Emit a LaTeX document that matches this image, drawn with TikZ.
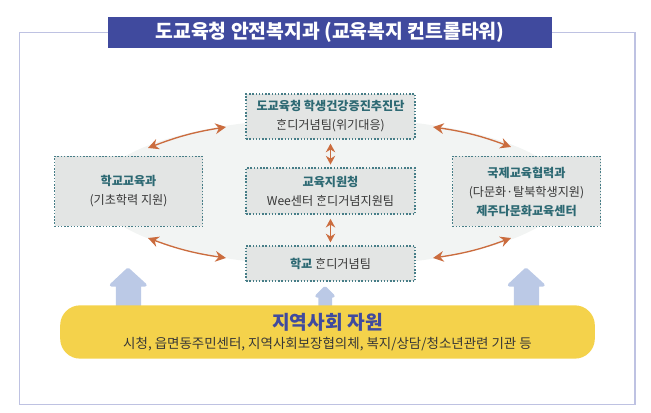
\documentclass[tikz,border=0pt]{standalone}
\usepackage{fontspec}
\usepackage{xcolor}
\setmainfont[Script=Hangul]{Noto Sans CJK KR}
\usetikzlibrary{arrows.meta, calc, positioning, shapes.geometric, backgrounds, fit}
\definecolor{titleblue}{RGB}{64,74,158}
\definecolor{framelilac}{RGB}{190,194,226}
\definecolor{boxgrey}{RGB}{227,229,228}
\definecolor{dottealc}{RGB}{70,125,135}
\definecolor{tealtext}{RGB}{45,105,115}
\definecolor{darktext}{RGB}{55,55,55}
\definecolor{arroworange}{RGB}{203,108,62}
\definecolor{cloudgrey}{RGB}{242,244,243}
\definecolor{paleblue}{RGB}{187,201,230}
\definecolor{bandyellow}{RGB}{244,210,75}
\tikzset{
    orgbox/.style={draw=dottealc, fill=boxgrey, line width=1.2pt, dash pattern=on 1.1pt off 1.3pt,
        minimum width=#1, align=center, text=darktext, font=\fontsize{9.1pt}{14.2pt}\selectfont, inner sep=0pt},
    orgarrow/.style={{Stealth[length=8pt,width=8pt]}-{Stealth[length=8pt,width=8pt]}, arroworange, line width=1pt},
    upblock/.style={fill=paleblue, draw=paleblue, line width=2.5pt, line join=round}
}
\newcommand{\tealbf}[1]{\textcolor{tealtext}{\bfseries #1}}
\begin{document}
\begin{tikzpicture}[x=0.75pt, y=-0.75pt]
    \useasboundingbox (0,0) rectangle (651,413);

    % Outer frame
    \draw[framelilac, line width=1pt] (19.5,32.5) rectangle (635,404.5);

    % Title
    \node[fill=titleblue, draw=titleblue, minimum width=332pt, minimum height=22.5pt, inner sep=0pt,
        text=white, font=\fontsize{14.5pt}{16pt}\selectfont\bfseries] (title) at (330,32.5) {도교육청 안전복지과 (교육복지 컨트롤타워)};

    % Grey cloud behind the boxes
    \fill[cloudgrey] (331,192) ellipse (235 and 74);

    % Offices
    \node[orgbox=126.5pt, minimum height=33.5pt] (topbox) at (330.5,116.5) {\tealbf{도교육청 학생건강증진추진단}\\ᄒᆞᆫ디거념팀(위기대응)};
    \node[orgbox=126.5pt, minimum height=34.5pt] (midbox) at (330.5,191) {\tealbf{교육지원청}\\Wee센터 ᄒᆞᆫ디거념지원팀};
    \node[orgbox=126.5pt, minimum height=26.5pt] (botbox) at (330.5,263.5) {\tealbf{학교} ᄒᆞᆫ디거념팀};
    \node[orgbox=111pt, minimum height=52.5pt] (leftbox) at (128.5,191.5) {\tealbf{학교교육과}\\(기초학력 지원)};
    \node[orgbox=111pt, minimum height=52.5pt] (rightbox) at (526.5,191.5) {\tealbf{국제교육협력과}\\(다문화·탈북학생지원)\\\tealbf{제주다문화교육센터}};

    % Ends of the curved arrows
    \coordinate (lta) at (148,148);
    \coordinate (ltb) at (226,127);
    \coordinate (rta) at (433,127);
    \coordinate (rtb) at (511,147);
    \coordinate (lba) at (148,238);
    \coordinate (lbb) at (226,258);
    \coordinate (rba) at (433,258);
    \coordinate (rbb) at (511,238);

    \draw[orgarrow] (lta) to[bend left=6] (ltb);
    \draw[orgarrow] (rta) to[bend left=6] (rtb);
    \draw[orgarrow] (lba) to[bend right=6] (lbb);
    \draw[orgarrow] (rba) to[bend right=6] (rbb);
    \draw[orgarrow, shorten <=3pt, shorten >=2pt, {Stealth[length=6.5pt,width=7pt]}-{Stealth[length=6.5pt,width=7pt]}] (topbox) -- (midbox);
    \draw[orgarrow, shorten <=3pt, shorten >=2pt, {Stealth[length=6.5pt,width=7pt]}-{Stealth[length=6.5pt,width=7pt]}] (midbox) -- (botbox);

    % Arrows going up from the band
    \draw[upblock] (117.5,310) -- (117.5,285) -- (111.5,285) -- (128,269.5) -- (145,285) -- (139.5,285) -- (139.5,310) -- cycle;
    \draw[upblock] (515.5,310) -- (515.5,285) -- (509.5,285) -- (526,269.5) -- (543,285) -- (537.5,285) -- (537.5,310) -- cycle;
    \draw[upblock] (320,310) -- (320,296) -- (317,296) -- (325,288) -- (333,296) -- (330.5,296) -- (330.5,310) -- cycle;

    % Community band
    \node[fill=bandyellow, rounded corners=15pt, minimum width=401pt, minimum height=40pt, inner sep=0pt, align=center,
        text=darktext, font=\fontsize{10.1pt}{13pt}\selectfont] (band) at (327.5,332)
        {{\fontsize{14.4pt}{16pt}\selectfont\bfseries\textcolor{titleblue}{지역사회 자원}}\\[1.5pt]시청, 읍면동주민센터, 지역사회보장협의체, 복지/상담/청소년관련 기관 등};
\end{tikzpicture}
\end{document}
